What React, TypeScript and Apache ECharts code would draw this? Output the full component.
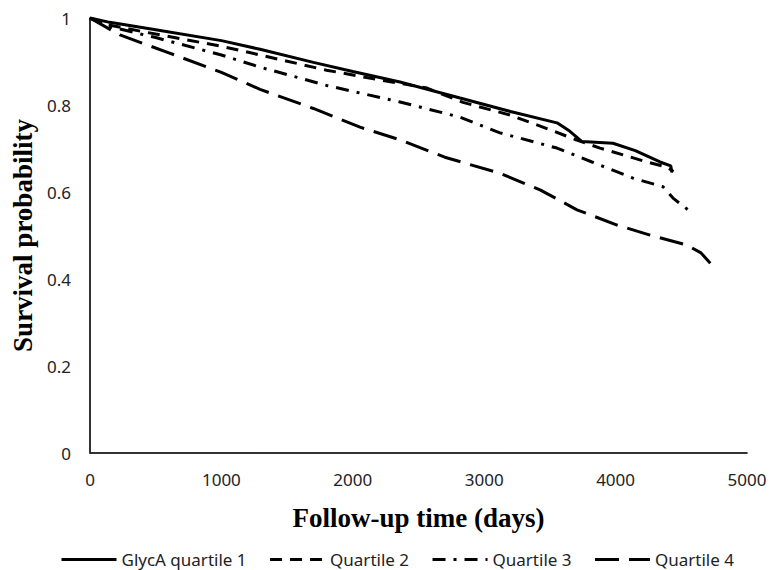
import React, { useEffect, useRef } from "react";
import * as echarts from "echarts";

const seriesNames = ["GlycA quartile 1", "Quartile 2", "Quartile 3", "Quartile 4"];

const quartile1: [number, number][] = [
  [0, 1], [150, 0.99], [500, 0.973], [1000, 0.948], [1294, 0.928], [1700, 0.898],
  [2000, 0.877], [2359, 0.853], [2816, 0.816], [3200, 0.785], [3554, 0.759],
  [3650, 0.74], [3744, 0.716], [3980, 0.712], [4150, 0.695], [4338, 0.669],
  [4420, 0.66], [4429, 0.645],
];

const quartile2: [number, number][] = [
  [0, 1], [120, 0.985], [500, 0.963], [1000, 0.935], [1294, 0.915], [1800, 0.88],
  [2200, 0.858], [2565, 0.839], [2838, 0.806], [3196, 0.777], [3501, 0.743],
  [3700, 0.72], [3881, 0.701], [4239, 0.669], [4391, 0.657], [4440, 0.647],
];

const quartile3: [number, number][] = [
  [0, 1], [152, 0.98], [500, 0.955], [1000, 0.915], [1294, 0.887], [1800, 0.845],
  [2359, 0.807], [2816, 0.772], [3120, 0.736], [3554, 0.701], [3820, 0.669],
  [4132, 0.632], [4361, 0.612], [4437, 0.586], [4551, 0.559],
];

const quartile4: [number, number][] = [
  [0, 1], [228, 0.961], [600, 0.92], [1000, 0.875], [1294, 0.836], [1700, 0.792],
  [2055, 0.749], [2359, 0.72], [2700, 0.68], [3120, 0.643], [3425, 0.605],
  [3706, 0.559], [4011, 0.524], [4262, 0.501], [4543, 0.478], [4650, 0.46],
  [4734, 0.432],
];

const xTicks = { min: 0, max: 5000, interval: 1000 };
const yTicks = { min: 0, max: 1, interval: 0.2 };

const dashPatterns: (string | number[])[] = ["solid", [12, 8], [13, 8, 3, 8], [24, 10]];

export default function App() {
  const ref = useRef<HTMLDivElement>(null);
  useEffect(() => {
    if (!ref.current) return;
    const chart = echarts.init(ref.current, null, { renderer: "svg" });
    const datasets = [quartile1, quartile2, quartile3, quartile4];
    const tickFont = { fontFamily: "Noto Sans", fontSize: 17, color: "#222" };
    const titleFont = {
      fontFamily: "Liberation Serif",
      fontWeight: "bold",
      fontSize: 27,
      color: "#000",
    };
    chart.setOption({
      animation: false,
      backgroundColor: "#fff",
      grid: {
        left: 90,
        right: 24,
        top: 18,
        bottom: 117,
        containLabel: false,
        outerBoundsMode: "none",
      },
      legend: {
        bottom: 2,
        left: 60,
        padding: 0,
        itemWidth: 55,
        itemHeight: 14,
        itemGap: 22,
        itemStyle: { opacity: 0, borderWidth: 0 },
        lineStyle: { width: 3 },
        textStyle: { fontFamily: "Noto Sans", fontSize: 17, color: "#222" },
        data: seriesNames,
      },
      xAxis: [
        {
          type: "value",
          ...xTicks,
          name: "Follow-up time (days)",
          nameLocation: "middle",
          nameGap: 51,
          nameTextStyle: titleFont,
          axisLine: { show: true, lineStyle: { color: "#bbb", width: 1.5 } },
          axisTick: { show: false },
          splitLine: { show: false },
          axisLabel: { ...tickFont, margin: 18, formatter: (v: number) => String(v) },
        },
        {
          type: "value",
          position: "top",
          ...xTicks,
          axisLine: { show: true, lineStyle: { color: "#000", width: 1.5 } },
          axisTick: { show: false },
          splitLine: { show: false },
          axisLabel: { show: false },
        },
      ],
      yAxis: [
        {
          type: "value",
          ...yTicks,
          name: "Survival probability",
          nameLocation: "middle",
          nameGap: 52,
          nameTextStyle: titleFont,
          axisLine: { show: true, lineStyle: { color: "#bbb", width: 1.5 } },
          axisTick: { show: false },
          splitLine: { show: false },
          axisLabel: { ...tickFont, margin: 19 },
        },
        {
          type: "value",
          position: "right",
          ...yTicks,
          axisLine: { show: true, lineStyle: { color: "#000", width: 1.5 } },
          axisTick: { show: false },
          splitLine: { show: false },
          axisLabel: { show: false },
        },
      ],
      series: seriesNames.map((name, i) => ({
        name,
        type: "line",
        data: datasets[i],
        symbol: "none",
        smooth: false,
        color: "#000",
        lineStyle: { color: "#000", width: 3, type: dashPatterns[i] },
      })),
    });
    return () => chart.dispose();
  }, []);
  return (
    <div
      ref={ref}
      style={{ position: "fixed", left: 0, top: 0, width: 771, height: 570 }}
    />
  );
}
